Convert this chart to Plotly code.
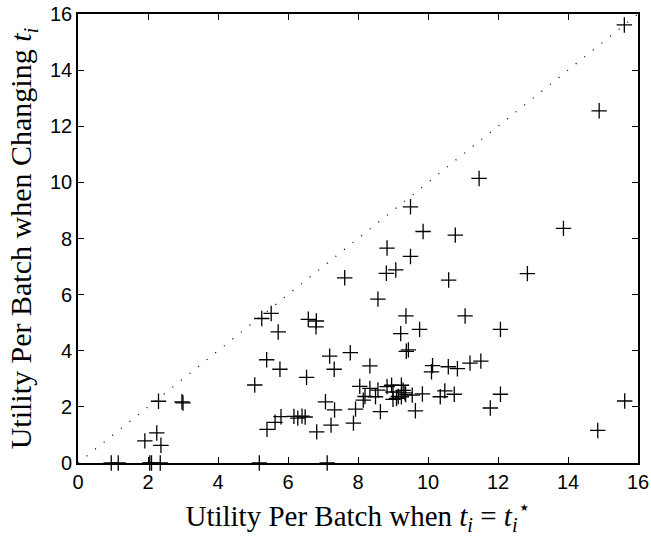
import plotly.graph_objects as go

# Points lying on the x axis (y = 0)
axis_x = [0.95, 1.15, 2.05, 2.1, 2.35, 5.18, 7.12]
axis_y = [0, 0, 0, 0, 0, 0, 0]

# Remaining points: utility when t_i = t_i* (x) vs utility when changing t_i (y)
pts_x = [1.91, 2.25, 2.37, 2.3, 2.97, 3.0,
         5.05, 5.25, 5.52, 5.72, 5.39, 5.77, 6.53, 6.58, 6.81, 6.8, 7.19, 7.32, 7.78,
         5.4, 5.63, 5.8, 6.17, 6.28, 6.4, 6.49, 6.82, 7.23, 7.07, 7.33, 7.87, 7.93,
         8.05, 8.15, 8.2, 8.34, 8.5, 8.57, 8.83, 8.96, 9.0, 9.0, 9.15, 9.24, 9.29,
         9.34, 9.24, 9.55, 8.64, 9.64, 8.34, 9.36, 9.1,
         7.62, 8.57, 8.81, 9.08, 8.83, 9.5, 9.5, 9.86, 10.78, 10.59, 9.37, 9.22,
         9.76, 9.38, 9.44,
         10.13, 10.1, 10.58, 10.84, 11.2, 11.51, 9.84, 10.35, 10.48, 10.75, 11.78,
         12.07, 11.06, 12.07, 11.46, 12.84, 13.87, 14.89, 15.61, 15.62, 14.85]
pts_y = [0.79, 1.07, 0.63, 2.2, 2.18, 2.14,
         2.78, 5.15, 5.33, 4.67, 3.68, 3.34, 3.05, 5.12, 5.06, 4.85, 3.81, 3.34, 3.93,
         1.2, 1.45, 1.65, 1.66, 1.6, 1.67, 1.64, 1.11, 1.35, 2.18, 1.89, 1.42, 1.92,
         2.73, 2.24, 2.37, 2.66, 2.36, 2.6, 2.72, 2.77, 2.53, 2.27, 2.37, 2.77, 2.59,
         2.5, 2.36, 2.42, 1.83, 1.86, 3.46, 2.44, 2.3,
         6.6, 5.84, 6.76, 6.88, 7.66, 7.36, 9.13, 8.25, 8.12, 6.52, 5.24, 4.61,
         4.76, 3.98, 4.03,
         3.47, 3.25, 3.43, 3.36, 3.56, 3.63, 2.46, 2.36, 2.57, 2.45, 1.96,
         2.45, 5.24, 4.76, 10.14, 6.75, 8.36, 12.55, 15.61, 2.21, 1.16]

diag = [0, 16]

fig = go.Figure()
fig.add_trace(go.Scatter(
    x=diag, y=diag, mode="lines",
    line=dict(color="black", width=1.3, dash="1px,10px"),
    hoverinfo="skip", showlegend=False))
fig.add_trace(go.Scatter(
    x=axis_x + pts_x, y=axis_y + pts_y, mode="markers",
    marker=dict(symbol="cross-thin", size=11,
                line=dict(color="black", width=1.3)),
    cliponaxis=False, showlegend=False))

axis_common = dict(
    range=[0, 16], dtick=2, tick0=0, automargin=False,
    showgrid=False, zeroline=False,
    showline=True, linecolor="black", linewidth=1.6, mirror="ticks",
    ticks="inside", ticklen=6, tickwidth=1, tickcolor="black",
    tickfont=dict(family="Liberation Sans, Arial", size=20, color="black"),
)

fig.update_layout(
    width=651, height=540,
    margin=dict(l=78, r=13, t=14, b=77),
    paper_bgcolor="white", plot_bgcolor="white",
    xaxis=dict(axis_common,
               title=dict(text="Utility Per Batch when <i>t<sub>i</sub></i> = <i>t</i><sub><i>i</i></sub><sup>⋆</sup>",
                          font=dict(family="Liberation Serif, DejaVu Serif", size=29, color="black"),
                          standoff=14)),
    yaxis=dict(axis_common,
               title=dict(text="Utility Per Batch when Changing <i>t<sub>i</sub></i>",
                          font=dict(family="Liberation Serif, DejaVu Serif", size=30, color="black"),
                          standoff=9)),
)

fig.write_html("out.html")
